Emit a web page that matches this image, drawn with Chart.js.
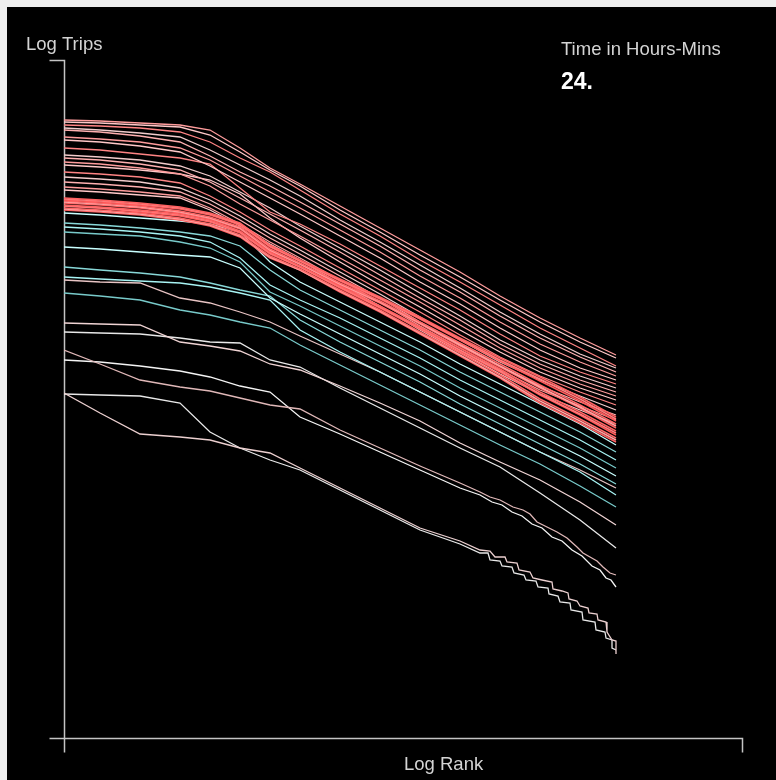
<!DOCTYPE html>
<html>
<head>
<meta charset="utf-8">
<script src="https://cdn.jsdelivr.net/npm/chart.js@4.4.0/dist/chart.umd.min.js"></script>
<style>
  html, body { margin: 0; padding: 0; background: #efefef; }
  canvas { display: block; }
</style>
</head>
<body>
<canvas id="c" width="776" height="780"></canvas>
<script>
// ln(rank) sample points shared by every curve
const logRank = [0, 0.36, 0.76, 1.16, 1.46, 1.76, 2.06, 2.36, 2.76, 3.16, 3.56, 3.96, 4.36, 4.76, 5.16, 5.52];

// ln(trips) per curve, daytime hours (upper bundle)
const dayTrips = [
  [6.18,6.17,6.15,6.13,6.08,5.90,5.70,5.54,5.32,5.10,4.88,4.66,4.42,4.20,4.00,3.83],
  [6.16,6.15,6.13,6.11,6.03,5.86,5.68,5.52,5.28,5.06,4.83,4.61,4.38,4.16,3.96,3.80],
  [6.13,6.12,6.10,6.06,5.96,5.80,5.66,5.48,5.24,5.02,4.78,4.56,4.33,4.10,3.90,3.72],
  [6.10,6.08,6.05,6.01,5.88,5.73,5.58,5.42,5.18,4.96,4.73,4.50,4.26,4.04,3.84,3.70],
  [6.08,6.06,6.02,5.96,5.82,5.66,5.52,5.36,5.14,4.92,4.68,4.46,4.22,4.00,3.81,3.66],
  [6.01,5.99,5.96,5.90,5.78,5.62,5.46,5.30,5.08,4.86,4.62,4.40,4.16,3.94,3.76,3.62],
  [5.98,5.96,5.92,5.86,5.72,5.56,5.40,5.24,5.02,4.80,4.56,4.34,4.10,3.88,3.70,3.58],
  [5.90,5.88,5.84,5.80,5.74,5.50,5.26,5.14,4.94,4.72,4.50,4.28,4.04,3.82,3.66,3.54],
  [5.83,5.81,5.78,5.72,5.62,5.46,5.30,5.12,4.90,4.68,4.45,4.22,3.98,3.78,3.62,3.50],
  [5.80,5.78,5.74,5.68,5.56,5.40,5.24,5.08,4.86,4.63,4.40,4.18,3.94,3.74,3.58,3.46],
  [5.76,5.74,5.70,5.64,5.52,5.34,5.18,5.02,4.80,4.58,4.36,4.13,3.90,3.70,3.54,3.42],
  [5.73,5.71,5.68,5.64,5.58,5.44,5.20,5.00,4.76,4.53,4.31,4.08,3.86,3.66,3.50,3.38],
  [5.66,5.64,5.61,5.55,5.42,5.26,5.08,4.92,4.70,4.48,4.26,4.03,3.81,3.62,3.46,3.33],
  [5.61,5.59,5.56,5.50,5.38,5.22,5.04,4.88,4.66,4.44,4.21,3.98,3.76,3.58,3.42,3.28],
  [5.56,5.54,5.51,5.46,5.34,5.18,5.00,4.84,4.62,4.40,4.16,3.94,3.72,3.52,3.36,3.23],
  [5.51,5.49,5.46,5.42,5.30,5.14,4.96,4.80,4.58,4.36,4.12,3.90,3.68,3.48,3.32,3.18],
  [5.48,5.46,5.43,5.40,5.28,5.12,4.94,4.78,4.54,4.32,4.08,3.86,3.64,3.44,3.28,3.14]
];

// ln(trips) per curve, peak hours (dense red band)
const peakTrips = [
  [5.40,5.38,5.35,5.31,5.25,5.15,4.93,4.78,4.59,4.41,4.21,4.00,3.80,3.61,3.41,3.21],
  [5.39,5.37,5.34,5.30,5.24,5.14,4.92,4.77,4.58,4.40,4.20,3.99,3.78,3.59,3.39,3.19],
  [5.38,5.36,5.33,5.29,5.23,5.13,4.91,4.77,4.57,4.39,4.19,3.98,3.77,3.57,3.37,3.17],
  [5.37,5.35,5.32,5.27,5.21,5.11,4.89,4.75,4.55,4.37,4.16,3.95,3.74,3.53,3.33,3.14],
  [5.36,5.34,5.31,5.26,5.20,5.10,4.88,4.74,4.54,4.36,4.15,3.93,3.72,3.51,3.31,3.12],
  [5.35,5.33,5.30,5.25,5.19,5.09,4.87,4.74,4.53,4.35,4.14,3.92,3.71,3.50,3.30,3.10],
  [5.33,5.31,5.28,5.24,5.18,5.07,4.86,4.72,4.52,4.32,4.11,3.90,3.69,3.46,3.26,3.07],
  [5.32,5.30,5.27,5.23,5.17,5.06,4.85,4.71,4.51,4.31,4.10,3.88,3.67,3.44,3.24,3.05],
  [5.32,5.30,5.26,5.22,5.16,5.05,4.84,4.71,4.50,4.30,4.09,3.87,3.66,3.43,3.23,3.03],
  [5.30,5.28,5.25,5.20,5.14,5.03,4.82,4.69,4.48,4.28,4.06,3.85,3.63,3.39,3.19,3.00],
  [5.29,5.27,5.24,5.19,5.13,5.02,4.81,4.68,4.47,4.27,4.05,3.83,3.61,3.37,3.17,2.98],
  [5.28,5.26,5.23,5.18,5.12,5.01,4.80,4.68,4.46,4.26,4.04,3.82,3.60,3.35,3.15,2.96]
];

// ln(trips) per curve, evening hours (cyan)
const eveningTrips = [
  [5.25,5.23,5.20,5.17,5.14,5.06,4.76,4.56,4.36,4.16,3.96,3.74,3.54,3.34,3.14,2.93],
  [5.15,5.13,5.10,5.06,5.02,4.92,4.68,4.48,4.28,4.08,3.88,3.66,3.46,3.26,3.06,2.86],
  [5.11,5.09,5.06,5.02,4.96,4.80,4.53,4.38,4.20,4.00,3.80,3.58,3.38,3.18,2.98,2.78],
  [5.06,5.04,5.02,4.96,4.90,4.76,4.46,4.32,4.12,3.92,3.72,3.50,3.30,3.10,2.90,2.70],
  [4.91,4.89,4.86,4.83,4.81,4.70,4.40,4.24,4.04,3.84,3.64,3.42,3.22,3.02,2.82,2.62],
  [4.71,4.68,4.65,4.61,4.55,4.48,4.42,4.18,3.96,3.76,3.56,3.34,3.14,2.94,2.74,2.54],
  [4.61,4.59,4.57,4.55,4.51,4.45,4.38,4.08,3.86,3.66,3.46,3.26,3.06,2.86,2.66,2.43],
  [4.45,4.42,4.38,4.28,4.23,4.16,4.10,3.93,3.73,3.53,3.33,3.13,2.93,2.74,2.52,2.31]
];

// ln(trips) per curve, night hours (pale)
const nightTrips = [
  [4.58,4.56,4.55,4.40,4.35,4.26,4.16,4.02,3.84,3.66,3.46,3.26,3.06,2.86,2.68,2.50],
  [4.15,4.14,4.13,3.96,3.92,3.87,3.74,3.68,3.52,3.35,3.17,2.95,2.76,2.58,2.36,2.13],
  [4.06,4.05,4.04,4.00,3.96,3.95,3.78,3.71,3.50,3.30,3.10,2.90,2.71,2.45,2.18,1.90],
  [3.88,3.74,3.58,3.51,3.47,3.40,3.33,3.29,3.08,2.90,2.72,2.55],
  [3.78,3.76,3.72,3.67,3.61,3.52,3.46,3.21,3.04,2.86,2.68,2.50],
  [3.45,3.25,3.04,3.01,2.98,2.90,2.85,2.70,2.50,2.30,2.10,1.97],
  [3.44,3.43,3.42,3.35,3.06,2.90,2.78,2.68,2.48,2.28,2.08,1.94]
];

// the sparsest night curves continue as small integer-count steps at high rank
const tailRankC  = [4.16,4.26,4.36,4.49,4.59,4.66,4.73,4.83,4.93,5.03,5.13,5.19,5.26,5.33,5.39,5.46,5.52];
const tailTripsC = [2.46,2.41,2.38,2.31,2.28,2.24,2.16,2.11,2.06,2.00,1.91,1.85,1.81,1.77,1.71,1.65,1.63];
const tailRankD  = [4.16,4.28,4.38,4.48,4.58,4.68,4.78,4.88,4.98,5.08,5.18,5.28,5.36,5.42,5.47,5.52];
const tailTripsD = [2.43,2.36,2.33,2.26,2.22,2.14,2.10,2.01,1.97,1.88,1.82,1.72,1.68,1.60,1.58,1.51];
const tailRankE  = [4.16,4.26,4.31,4.41,4.43,4.53,4.55,4.66,4.69,4.78,4.88,4.89,4.98,5.04,5.05,5.13,5.16,5.24,5.25,5.33,5.34,5.42,5.43,5.48,5.52,5.52];
const tailTripsE = [1.88,1.87,1.81,1.81,1.76,1.75,1.68,1.66,1.60,1.58,1.56,1.49,1.47,1.45,1.39,1.37,1.32,1.30,1.25,1.24,1.18,1.16,1.06,0.98,0.97,0.84];
const tailRankF  = [4.16,4.24,4.26,4.36,4.38,4.48,4.50,4.60,4.62,4.72,4.74,4.84,4.85,4.94,4.96,5.06,5.07,5.18,5.19,5.31,5.32,5.41,5.42,5.48,5.48,5.52];
const tailTripsF = [1.85,1.85,1.78,1.77,1.72,1.71,1.65,1.63,1.58,1.57,1.51,1.50,1.44,1.42,1.36,1.35,1.28,1.26,1.18,1.16,1.08,1.06,1.00,0.98,0.90,0.88];
const nightTails = [null, null, null, [tailRankC, tailTripsC], [tailRankD, tailTripsD], [tailRankE, tailTripsE], [tailRankF, tailTripsF]];

const dayColors = ['#ff9c9c', '#ffc8c8', '#ff8484', '#f2cccc', '#ffb0b0'];
const peakColors = ['#ff6262', '#ff7c7c', '#ff5858', '#ff6a6a', '#ffa0a0', '#ff6060'];
const eveningColors = ['#c8ffff', '#88d8d8', '#a8f4f4', '#78caca'];
const nightColors = ['#e8c4c4', '#f0d4d4', '#e8e8e8', '#e0b8b8', '#f4f4f4', '#ecd0d0', '#e8e8e8'];

const axisMax = 6.78;
const clockText = '24.';

function toSeries(rows, colors, width, tails) {
  return rows.map((row, i) => {
    const pts = row.map((y, j) => ({ x: logRank[j], y: y }));
    const tail = tails && tails[i];
    if (tail) tail[0].forEach((x, k) => pts.push({ x: x, y: tail[1][k] }));
    return {
      data: pts,
      borderColor: colors[i % colors.length],
      borderWidth: width,
      pointRadius: 0,
      tension: 0,
      fill: false
    };
  });
}

const datasets = [
  ...toSeries(peakTrips, peakColors, 1.5),
  ...toSeries(dayTrips, dayColors, 1.3),
  ...toSeries(eveningTrips, eveningColors, 1.3),
  ...toSeries(nightTrips, nightColors, 1.3, nightTails)
];

// black panel, bracket-style axes and captions
const framePlugin = {
  id: 'frame',
  beforeDraw(chart) {
    const ctx = chart.ctx;
    const xs = chart.scales.x, ys = chart.scales.y;
    ctx.save();
    ctx.fillStyle = '#efefef';
    ctx.fillRect(0, 0, chart.width, chart.height);
    ctx.fillStyle = '#000000';
    ctx.fillRect(7, 7, chart.width - 7, chart.height - 7);

    const x0 = Math.round(xs.getPixelForValue(0)) + 0.5;
    const x1 = Math.round(xs.getPixelForValue(axisMax)) + 0.5;
    const y0 = Math.round(ys.getPixelForValue(0)) + 0.5;
    const y1 = Math.round(ys.getPixelForValue(axisMax)) + 0.5;
    ctx.strokeStyle = '#c4c4c4';
    ctx.lineWidth = 1.5;
    ctx.beginPath();
    ctx.moveTo(x0 - 15, y1); ctx.lineTo(x0, y1); ctx.lineTo(x0, y0 + 14);
    ctx.moveTo(x0 - 15, y0); ctx.lineTo(x1, y0); ctx.lineTo(x1, y0 + 14);
    ctx.stroke();

    ctx.textBaseline = 'alphabetic';
    ctx.textAlign = 'left';
    ctx.fillStyle = '#d4d4d4';
    ctx.font = '18.5px "Liberation Sans", Arial, sans-serif';
    ctx.fillText('Log Trips', 26, 50);
    ctx.fillText('Log Rank', 404, 770);
    ctx.fillText('Time in Hours-Mins', 561, 55);
    ctx.fillStyle = '#ffffff';
    ctx.font = 'bold 23px "Liberation Sans", Arial, sans-serif';
    ctx.fillText(clockText, 561, 89);
    ctx.restore();
  }
};

new Chart(document.getElementById('c'), {
  type: 'line',
  data: { datasets: datasets },
  options: {
    responsive: false,
    animation: false,
    devicePixelRatio: 1,
    layout: { padding: { left: 64, right: 34, top: 60, bottom: 42 } },
    scales: {
      x: { type: 'linear', min: 0, max: axisMax, display: false },
      y: { type: 'linear', min: 0, max: axisMax, display: false }
    },
    plugins: { legend: { display: false }, tooltip: { enabled: false } }
  },
  plugins: [framePlugin]
});
</script>
</body>
</html>
